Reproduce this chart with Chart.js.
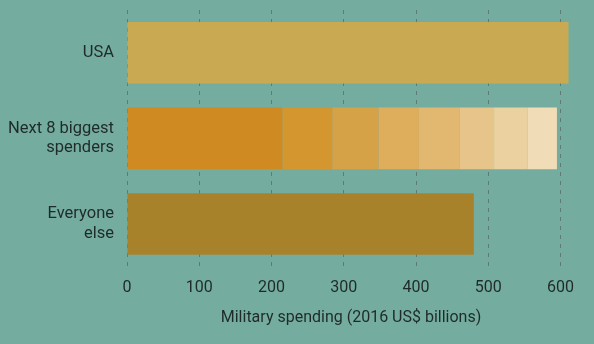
<!DOCTYPE html>
<html>
<head>
<meta charset="utf-8">
<script src="https://cdn.jsdelivr.net/npm/chart.js@4"></script>
<style>
  html, body { margin: 0; padding: 0; background: #74ad9f; }
  #wrap { width: 594px; height: 344px; }
</style>
</head>
<body>
<div id="wrap"><canvas id="myChart"></canvas></div>
<script>
'use strict';
// categories shown on the y axis
let categories = [['USA'], ['Next 8 biggest', 'spenders'], ['Everyone', 'else']];

// USA and the rest of the world
let usaSpending = [611, null, null];
let restSpending = [null, null, 480];

// the next 8 biggest spenders, stacked left to right
let next8Names = ['China', 'Russia', 'Saudi Arabia', 'India', 'France', 'UK', 'Japan', 'Germany'];
let next8Spending = [215, 69, 64, 56, 56, 48, 46, 41];
let next8Colors = ['#cf8a22', '#d4962f', '#d6a248', '#dfae5d', '#e2b870', '#e7c58a', '#ebd1a0', '#f0dcb6'];

let xTicks = [0, 100, 200, 300, 400, 500, 600];

let datasets = [{
    label: 'USA',
    data: usaSpending,
    backgroundColor: '#c9aa52'
}];
for (let i = 0; i < next8Names.length; i++) {
    datasets.push({
        label: next8Names[i],
        data: [null, next8Spending[i], null],
        backgroundColor: next8Colors[i]
    });
}
datasets.push({
    label: 'Everyone else',
    data: restSpending,
    backgroundColor: '#a8822b'
});

let textColor = '#1f2b28';

let ctx = document.getElementById('myChart').getContext('2d');
let myChart = new Chart(ctx, {
    type: 'bar',
    data: {
        labels: categories,
        datasets: datasets
    },
    options: {
        indexAxis: 'y',
        responsive: true,
        maintainAspectRatio: false,
        animation: false,
        layout: {
            padding: { top: 10, right: 19, bottom: 18.5, left: 0 }
        },
        plugins: {
            legend: { display: false },
            tooltip: { enabled: false }
        },
        datasets: {
            bar: {
                categoryPercentage: 1,
                barPercentage: 0.72,
                borderWidth: 0
            }
        },
        scales: {
            x: {
                stacked: true,
                min: 0,
                max: 620,
                afterBuildTicks: function (scale) {
                    scale.ticks = xTicks.map(function (v) { return { value: v }; });
                },
                border: { display: false, dash: [4, 5] },
                grid: {
                    color: '#5f7a73',
                    lineWidth: 1,
                    drawTicks: false
                },
                ticks: {
                    color: textColor,
                    padding: 11.5,
                    font: { family: 'Roboto', size: 16 }
                },
                title: {
                    display: true,
                    text: 'Military spending (2016 US$ billions)',
                    color: textColor,
                    font: { family: 'Roboto', size: 16, lineHeight: 1 },
                    padding: { top: 0.5, bottom: 0 }
                }
            },
            y: {
                stacked: true,
                afterFit: function (scale) {
                    // keep the plot at x = 127 and drop the label overhang padding
                    scale.width = 127;
                    scale.paddingTop = 0;
                    scale.paddingBottom = 0;
                },
                border: { display: false },
                grid: { display: false, drawTicks: false },
                ticks: {
                    color: textColor,
                    padding: 13,
                    font: { family: 'Roboto', size: 16.5 }
                }
            }
        }
    }
});
</script>
</body>
</html>
